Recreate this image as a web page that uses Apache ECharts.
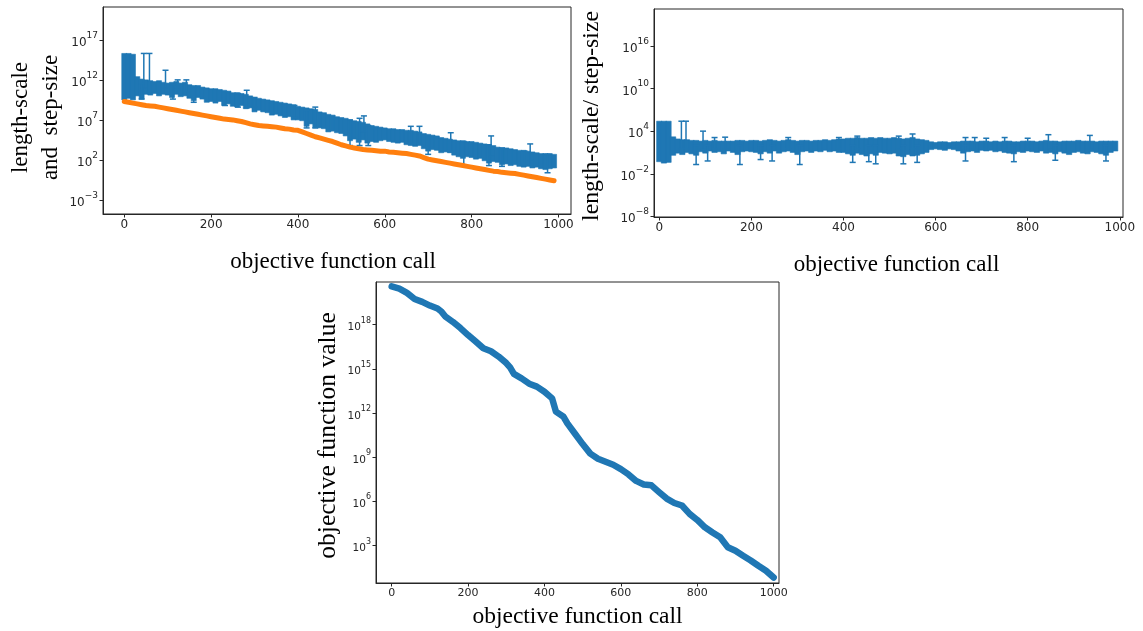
<!DOCTYPE html>
<html><head><meta charset="utf-8">
<script src="https://cdn.jsdelivr.net/npm/echarts@6/dist/echarts.min.js"></script>
<style>html,body{margin:0;padding:0;background:#fff}#c{width:1143px;height:631px}</style>
</head><body><div id="c"></div>
<script>
// ---------------- DATA (values are log10 of the plotted quantity) ----------------
const callsTop = [0,10,20,30,40,50,60,70,80,90,100,110,120,130,140,150,160,170,180,190,
200,210,220,230,240,250,260,270,280,290,300,310,320,330,340,350,360,370,380,390,
400,410,420,430,440,450,460,470,480,490,500,510,520,530,540,550,560,570,580,590,
600,610,620,630,640,650,660,670,680,690,700,710,720,730,740,750,760,770,780,790,
800,810,820,830,840,850,860,870,880,890,900,910,920,930,940,950,960,970,980,990];

// length-scale: dense error-bar envelope (upper / lower), log10
const lengthScaleHi = [15.3,15.3,15.2,12.4,12.1,12.0,11.9,11.8,11.9,11.7,
11.6,11.7,11.8,11.6,11.7,11.4,11.3,11.3,11.1,11.0,
10.9,10.9,10.8,10.7,10.6,10.4,10.4,10.3,10.2,10.0,
9.8,9.7,9.6,9.5,9.4,9.3,9.2,9.1,9.0,8.9,
8.7,8.6,8.5,8.4,8.3,8.0,7.9,7.7,7.6,7.4,
7.3,7.2,7.0,6.9,6.8,6.7,6.5,6.3,6.2,6.1,
6.0,5.9,5.9,5.8,5.8,5.7,5.7,5.6,5.5,5.3,
5.2,5.1,5.0,4.8,4.7,4.6,4.5,4.4,4.4,4.3,
4.3,4.2,4.1,4.0,3.9,3.8,3.6,3.5,3.5,3.4,
3.3,3.2,3.2,3.1,3.0,2.9,2.8,2.8,2.8,2.7];
const lengthScaleLo = [9.5,9.7,9.5,10.0,9.6,10.2,10.1,10.3,10.0,10.2,
10.1,9.8,10.2,9.9,10.0,9.7,9.4,9.8,9.6,9.2,
9.3,9.1,9.3,8.8,9.0,8.7,8.6,8.8,8.4,8.5,
8.0,8.2,8.0,7.9,7.6,7.7,7.5,7.3,7.4,7.0,
7.0,6.9,6.2,6.5,6.0,6.0,5.9,5.5,5.6,5.4,
5.3,5.0,4.4,4.6,4.2,4.5,4.1,4.3,4.2,4.4,
4.5,4.3,4.2,4.1,4.2,3.9,3.8,3.7,3.8,3.4,
3.1,3.3,3.2,2.9,3.0,2.9,2.6,2.4,2.2,2.4,
2.3,2.1,2.2,1.9,1.6,1.8,1.7,1.4,1.5,1.3,
1.4,1.2,1.1,1.2,1.0,1.1,0.9,0.8,0.9,1.0];
// isolated length-scale error bars with caps: [call, low, high] (log10)
const lengthScaleSpikes = [[45,11.0,15.3],[58,10.5,15.3],[95,11.0,13.2],[123,10.8,12.0],[143,10.5,12.0],
[40,9.6,11.5],[112,9.6,11.4],[160,9.2,11.0],[232,8.8,10.5],[262,8.6,10.3],[282,8.5,10.7],[300,8.6,9.8],
[392,7.3,8.8],[420,6.0,8.2],[440,6.0,8.6],[520,3.8,7.0],[542,3.8,7.2],[552,5.5,7.5],[562,3.8,6.3],
[660,4.0,6.2],[680,4.0,6.2],[700,2.7,5.0],[752,3.0,5.4],[782,1.3,4.3],[840,1.3,3.9],[845,2.5,5.0],
[870,1.2,3.5],[922,1.4,3.1],[935,2.0,4.0],[975,0.4,2.7]];

// step-size, log10
const stepSize = [9.3,9.2,9.1,9.0,8.9,8.8,8.75,8.7,8.6,8.5,
8.4,8.3,8.2,8.1,8.0,7.9,7.8,7.7,7.6,7.5,
7.4,7.3,7.2,7.1,7.05,7.0,6.9,6.8,6.65,6.5,
6.4,6.3,6.25,6.2,6.15,6.1,6.0,5.9,5.85,5.75,
5.7,5.5,5.3,5.1,4.9,4.75,4.6,4.45,4.3,4.1,
3.9,3.75,3.6,3.5,3.4,3.3,3.25,3.2,3.15,3.1,
3.1,3.0,2.95,2.9,2.85,2.8,2.7,2.6,2.5,2.3,
2.1,2.0,1.9,1.8,1.7,1.6,1.5,1.4,1.3,1.2,
1.1,1.0,0.9,0.8,0.7,0.6,0.55,0.45,0.4,0.35,
0.3,0.2,0.1,0.0,-0.1,-0.2,-0.3,-0.4,-0.5,-0.6];

// length-scale / step-size envelope, log10
const ratioHi = [5.4,5.4,5.4,3.2,2.9,2.8,2.8,2.7,2.7,2.6,
2.7,2.6,2.7,2.6,2.6,2.6,2.6,2.7,2.7,2.6,
2.7,2.7,2.6,2.7,2.8,2.7,2.6,2.7,2.8,2.7,
2.6,2.7,2.7,2.6,2.7,2.7,2.8,2.7,2.8,2.9,
2.9,3.0,3.0,3.1,3.0,3.0,3.1,3.0,3.1,3.0,
3.0,3.1,3.0,2.9,3.0,3.1,2.9,2.8,2.7,2.5,
2.4,2.5,2.5,2.4,2.5,2.5,2.6,2.6,2.6,2.5,
2.6,2.6,2.5,2.6,2.5,2.6,2.6,2.5,2.5,2.6,
2.6,2.6,2.5,2.6,2.7,2.6,2.6,2.5,2.6,2.6,
2.6,2.7,2.6,2.6,2.6,2.5,2.6,2.6,2.6,2.6];
const ratioLo = [-0.3,-0.5,-0.4,0.6,0.9,0.7,1.0,0.8,0.6,1.1,
0.9,1.2,1.0,1.1,0.8,1.2,1.0,0.7,1.1,1.2,
1.1,1.0,0.8,1.1,0.9,1.2,0.9,1.1,1.2,1.0,
0.7,1.1,1.2,1.0,1.2,1.1,1.3,1.1,1.2,1.0,
1.0,0.8,0.6,0.9,0.7,0.5,0.8,0.6,1.0,0.9,
0.8,0.9,0.5,0.4,0.7,0.5,0.6,0.8,1.0,1.4,
1.5,1.4,1.3,1.5,1.4,1.2,0.9,1.1,1.2,1.0,
1.3,1.2,1.3,1.1,1.2,1.0,0.9,0.8,1.1,1.0,
1.2,1.1,1.0,1.2,0.9,1.0,0.8,1.1,0.9,0.7,
1.0,1.1,0.9,0.8,1.1,1.0,0.8,0.6,1.0,1.2];
const ratioSpikes = [[48,1.5,5.4],[58,1.5,5.4],[95,1.4,4.0],[120,1.5,3.1],[143,1.5,3.15],[280,1.5,3.1],
[390,1.5,3.1],[430,1.5,3.3],[520,1.5,3.3],[550,1.5,3.6],[665,1.5,3.1],[685,1.5,3.1],[710,1.5,3.0],
[750,1.5,3.1],[800,1.5,3.0],[845,1.5,3.5],[935,1.5,3.4],
[80,-0.7,2.0],[105,-0.2,2.0],[175,-0.7,2.0],[220,0.0,2.0],[245,-0.2,2.0],[305,-0.7,2.0],[420,-0.4,2.0],
[455,-0.3,2.0],[470,-0.6,2.0],[530,-0.6,2.0],[560,-0.4,2.0],[665,-0.2,2.0],[770,-0.3,2.0],[860,-0.1,2.0],[970,-0.2,2.0]];

// objective function value, log10
const objCalls = [0,20,40,60,80,100,120,130,140,160,180,200,220,240,260,280,300,310,320,340,360,380,400,420,430,450,460,480,500,520,540,560,580,600,620,640,660,680,700,720,740,760,780,800,820,840,860,880,900,920,940,960,980,1000];
const objValue = [20.6,20.45,20.16,19.75,19.55,19.3,19.1,18.9,18.57,18.2,17.77,17.3,16.86,16.4,16.2,15.84,15.4,15.1,14.66,14.36,14.0,13.8,13.45,13.0,12.1,11.75,11.3,10.6,9.9,9.25,8.9,8.7,8.5,8.2,7.84,7.4,7.16,7.1,6.64,6.2,5.9,5.73,5.16,4.75,4.25,3.9,3.57,2.9,2.66,2.32,2.0,1.64,1.3,0.84];

// tick labels
const xTicks = [0,200,400,600,800,1000];
const yTicksTL = [-3,2,7,12,17];
const yTicksTR = [-8,-2,4,10,16];
const yTicksB = [3,6,9,12,15,18];

// ---------------- CHART ----------------
const BLUE='#1f77b4', ORANGE='#ff7f0e', INK='#262626';
const SERIF='"Liberation Serif","DejaVu Serif",serif';
const SANS='"DejaVu Sans",sans-serif';

function supLabel(size, ticks){
  return { customValues:ticks, margin:5, color:INK, fontFamily:SANS,
    formatter: v => '{b|10}{s|' + (v<0 ? '\u2212'+Math.abs(v) : v) + '}',
    rich:{ b:{fontSize:size, fontFamily:SANS, color:INK, lineHeight:size+6, verticalAlign:'bottom'},
           s:{fontSize:Math.round(size*0.72), fontFamily:SANS, color:INK, lineHeight:size+6, verticalAlign:'top'} } };
}
function xAx(grid, min, max, fs, gap, nfs, pad){
  return { gridIndex:grid, type:'value', min:min, max:max,
    axisLine:{show:true, onZero:false, lineStyle:{color:INK, width:1}},
    splitLine:{show:false},
    axisTick:{customValues:xTicks, length:3.5, lineStyle:{color:INK}},
    axisLabel:{customValues:xTicks, fontSize:fs, fontFamily:SANS, color:INK, margin:5, formatter:v=>String(v)},
    name:'objective function call', nameLocation:'middle', nameGap:gap,
    nameTextStyle:{fontFamily:SERIF, fontSize:nfs, color:'#000', padding:pad} };
}
function yAx(grid, min, max, ticks, fs, name, gap, nfs, lh, pad){
  return { gridIndex:grid, type:'value', min:min, max:max,
    axisLine:{show:true, onZero:false, lineStyle:{color:INK, width:1}},
    splitLine:{show:false},
    axisTick:{customValues:ticks, length:3.5, lineStyle:{color:INK}},
    axisLabel:supLabel(fs, ticks),
    name:name, nameLocation:'middle', nameGap:gap, nameRotate:90,
    nameTextStyle:{fontFamily:SERIF, fontSize:nfs, color:'#000', lineHeight:lh, padding:pad} };
}
function bandItem(params, api){
  const x=api.value(0), lo=api.value(1), hi=api.value(2);
  const a=api.coord([x-5.8, hi]), b=api.coord([x+5.8, lo]);
  return {type:'rect', shape:{x:a[0], y:a[1], width:b[0]-a[0], height:b[1]-a[1]},
    style:{fill:BLUE, stroke:BLUE, lineWidth:0.6}};
}
function spikeItem(params, api){
  const x=api.value(0);
  const lo=api.coord([x, api.value(1)]), hi=api.coord([x, api.value(2)]);
  const st={stroke:BLUE, lineWidth:1.5};
  return {type:'group', children:[
    {type:'line', shape:{x1:lo[0], y1:lo[1], x2:hi[0], y2:hi[1]}, style:st},
    {type:'line', shape:{x1:hi[0]-3, y1:hi[1], x2:hi[0]+3, y2:hi[1]}, style:st},
    {type:'line', shape:{x1:lo[0]-3, y1:lo[1], x2:lo[0]+3, y2:lo[1]}, style:st}
  ]};
}
const band = (xs, lo, hi) => xs.map((x,i)=>[x, lo[i], hi[i]]);

const option = {
  animation:false,
  backgroundColor:'#fff',
  grid:[
    {left:103, top:7, width:468, height:207, show:true, borderColor:INK, borderWidth:1},
    {left:654, top:9, width:469, height:208, show:true, borderColor:INK, borderWidth:1},
    {left:376, top:282, width:403, height:301, show:true, borderColor:INK, borderWidth:1}
  ],
  xAxis:[ xAx(0,-49,1029,12,36,23,[0,8,0,0]), xAx(1,-11.5,1007,12,36,23,[0,0,0,16]), xAx(2,-41,1014,11,22,23.5,0) ],
  yAxis:[
    yAx(0,-4.75,21.1,yTicksTL,12,'length-scale\nand  step-size',37,23,30,[0,14,0,0]),
    yAx(1,-8.09,21.2,yTicksTR,12,'length-scale/ step-size',48,23.7,28,[0,6,0,0]),
    yAx(2,0.47,20.9,yTicksB,10.5,'objective function value',32,25.5,30,[0,6,0,0])
  ],
  series:[
    {type:'custom', xAxisIndex:0, yAxisIndex:0, clip:true, renderItem:bandItem,
      data:band(callsTop, lengthScaleLo, lengthScaleHi)},
    {type:'custom', xAxisIndex:0, yAxisIndex:0, clip:true, renderItem:spikeItem, data:lengthScaleSpikes},
    {type:'line', xAxisIndex:0, yAxisIndex:0, showSymbol:false, data:callsTop.map((x,i)=>[x, stepSize[i]]),
      lineStyle:{color:ORANGE, width:5, cap:'round', join:'round'}, itemStyle:{color:ORANGE}},
    {type:'custom', xAxisIndex:1, yAxisIndex:1, clip:true, renderItem:bandItem,
      data:band(callsTop, ratioLo, ratioHi)},
    {type:'custom', xAxisIndex:1, yAxisIndex:1, clip:true, renderItem:spikeItem, data:ratioSpikes},
    {type:'line', xAxisIndex:2, yAxisIndex:2, showSymbol:false, data:objCalls.map((x,i)=>[x, objValue[i]]),
      lineStyle:{color:BLUE, width:6.5, cap:'round', join:'round'}, itemStyle:{color:BLUE}}
  ]
};
const chart = echarts.init(document.getElementById('c'));
chart.setOption(option);
</script></body></html>
